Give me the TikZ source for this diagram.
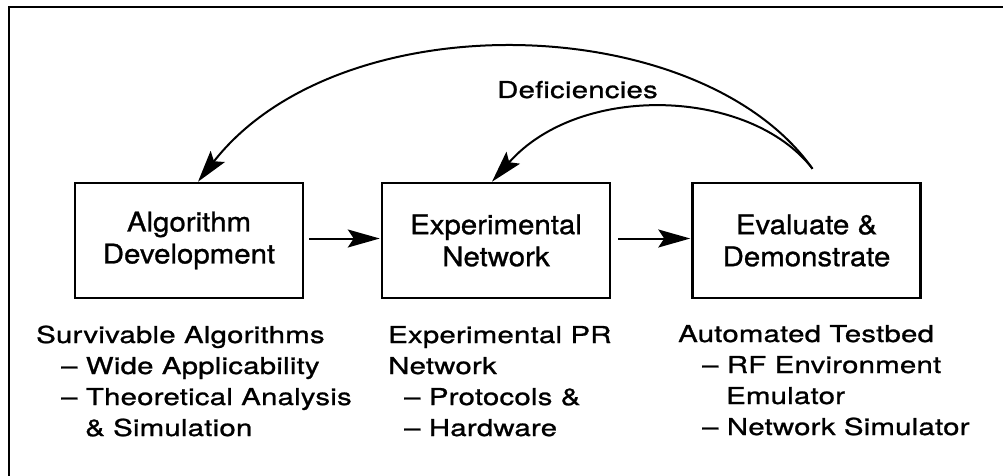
\documentclass[tikz,border=0pt]{standalone}
\usepackage{fontspec}
\setmainfont{TeX Gyre Heros}
\newfontfamily\boxfont{TeX Gyre Heros}[FakeStretch=1.09, FakeBold=1]
\newfontfamily\lblfont{TeX Gyre Heros}[FakeStretch=1.26, LetterSpace=1, FakeBold=1]
\usetikzlibrary{arrows.meta}
\tikzset{
  stepbox/.style={draw, line width=2.5pt, align=center, inner sep=0pt,
    minimum width=228pt, minimum height=115pt,
    font=\boxfont\fontsize{27}{32}\selectfont},
  lbl/.style={anchor=base west, inner sep=0pt,
    font=\lblfont\fontsize{23.3}{31}\selectfont},
  conn/.style={line width=2pt, -{Stealth[length=32pt,width=18pt,inset=6pt]}},
  frame/.style={line width=2pt}
}
\begin{document}
\begin{tikzpicture}[x=1pt,y=-1pt]
\useasboundingbox (0,0) rectangle (1003,476);
\draw[frame] (9,476) -- (9,7) -- (1003,7);

\node[stepbox] (alg) at (189,240.5) {Algorithm\\Development};
\node[stepbox] (exp) at (496,240.5) {Experimental\\Network};
\node[stepbox] (eva) at (806.5,240.5) {Evaluate \&\\Demonstrate};

\draw[conn, shorten <=5pt, shorten >=1pt] ([yshift=2pt]alg.east) -- ([yshift=2pt]exp.west);
\draw[conn, shorten <=7pt, shorten >=1pt] ([yshift=2pt]exp.east) -- ([yshift=2pt]eva.west);

\coordinate (fb) at ([xshift=6pt,yshift=13pt]eva.north);
\draw[conn] (fb) .. controls (700,10) and (340,0) .. ([xshift=9pt]alg.north);
\draw[conn] (fb) .. controls (750,88) and (580,82) .. ([xshift=-4pt]exp.north);

\node[lbl] (def) at (497,98) {Deficiencies};

\node[lbl] (l1) at (36,343) {\begin{tabular}[t]{@{}l@{}}Survivable Algorithms\\
\hspace*{25pt}– Wide Applicability\\
\hspace*{25pt}– Theoretical Analysis\\
\hspace*{49pt}\& Simulation\end{tabular}};

\node[lbl] (l2) at (388,343) {\begin{tabular}[t]{@{}l@{}}Experimental PR\\
Network\\
\hspace*{16pt}– Protocols \&\\
\hspace*{16pt}– Hardware\end{tabular}};

\node[lbl] (l3) at (678,342) {\begin{tabular}[t]{@{}l@{}}Automated Testbed\\
\hspace*{24pt}– RF Environment\\
\hspace*{48pt}Emulator\\
\hspace*{24pt}– Network Simulator\end{tabular}};
\end{tikzpicture}
\end{document}
